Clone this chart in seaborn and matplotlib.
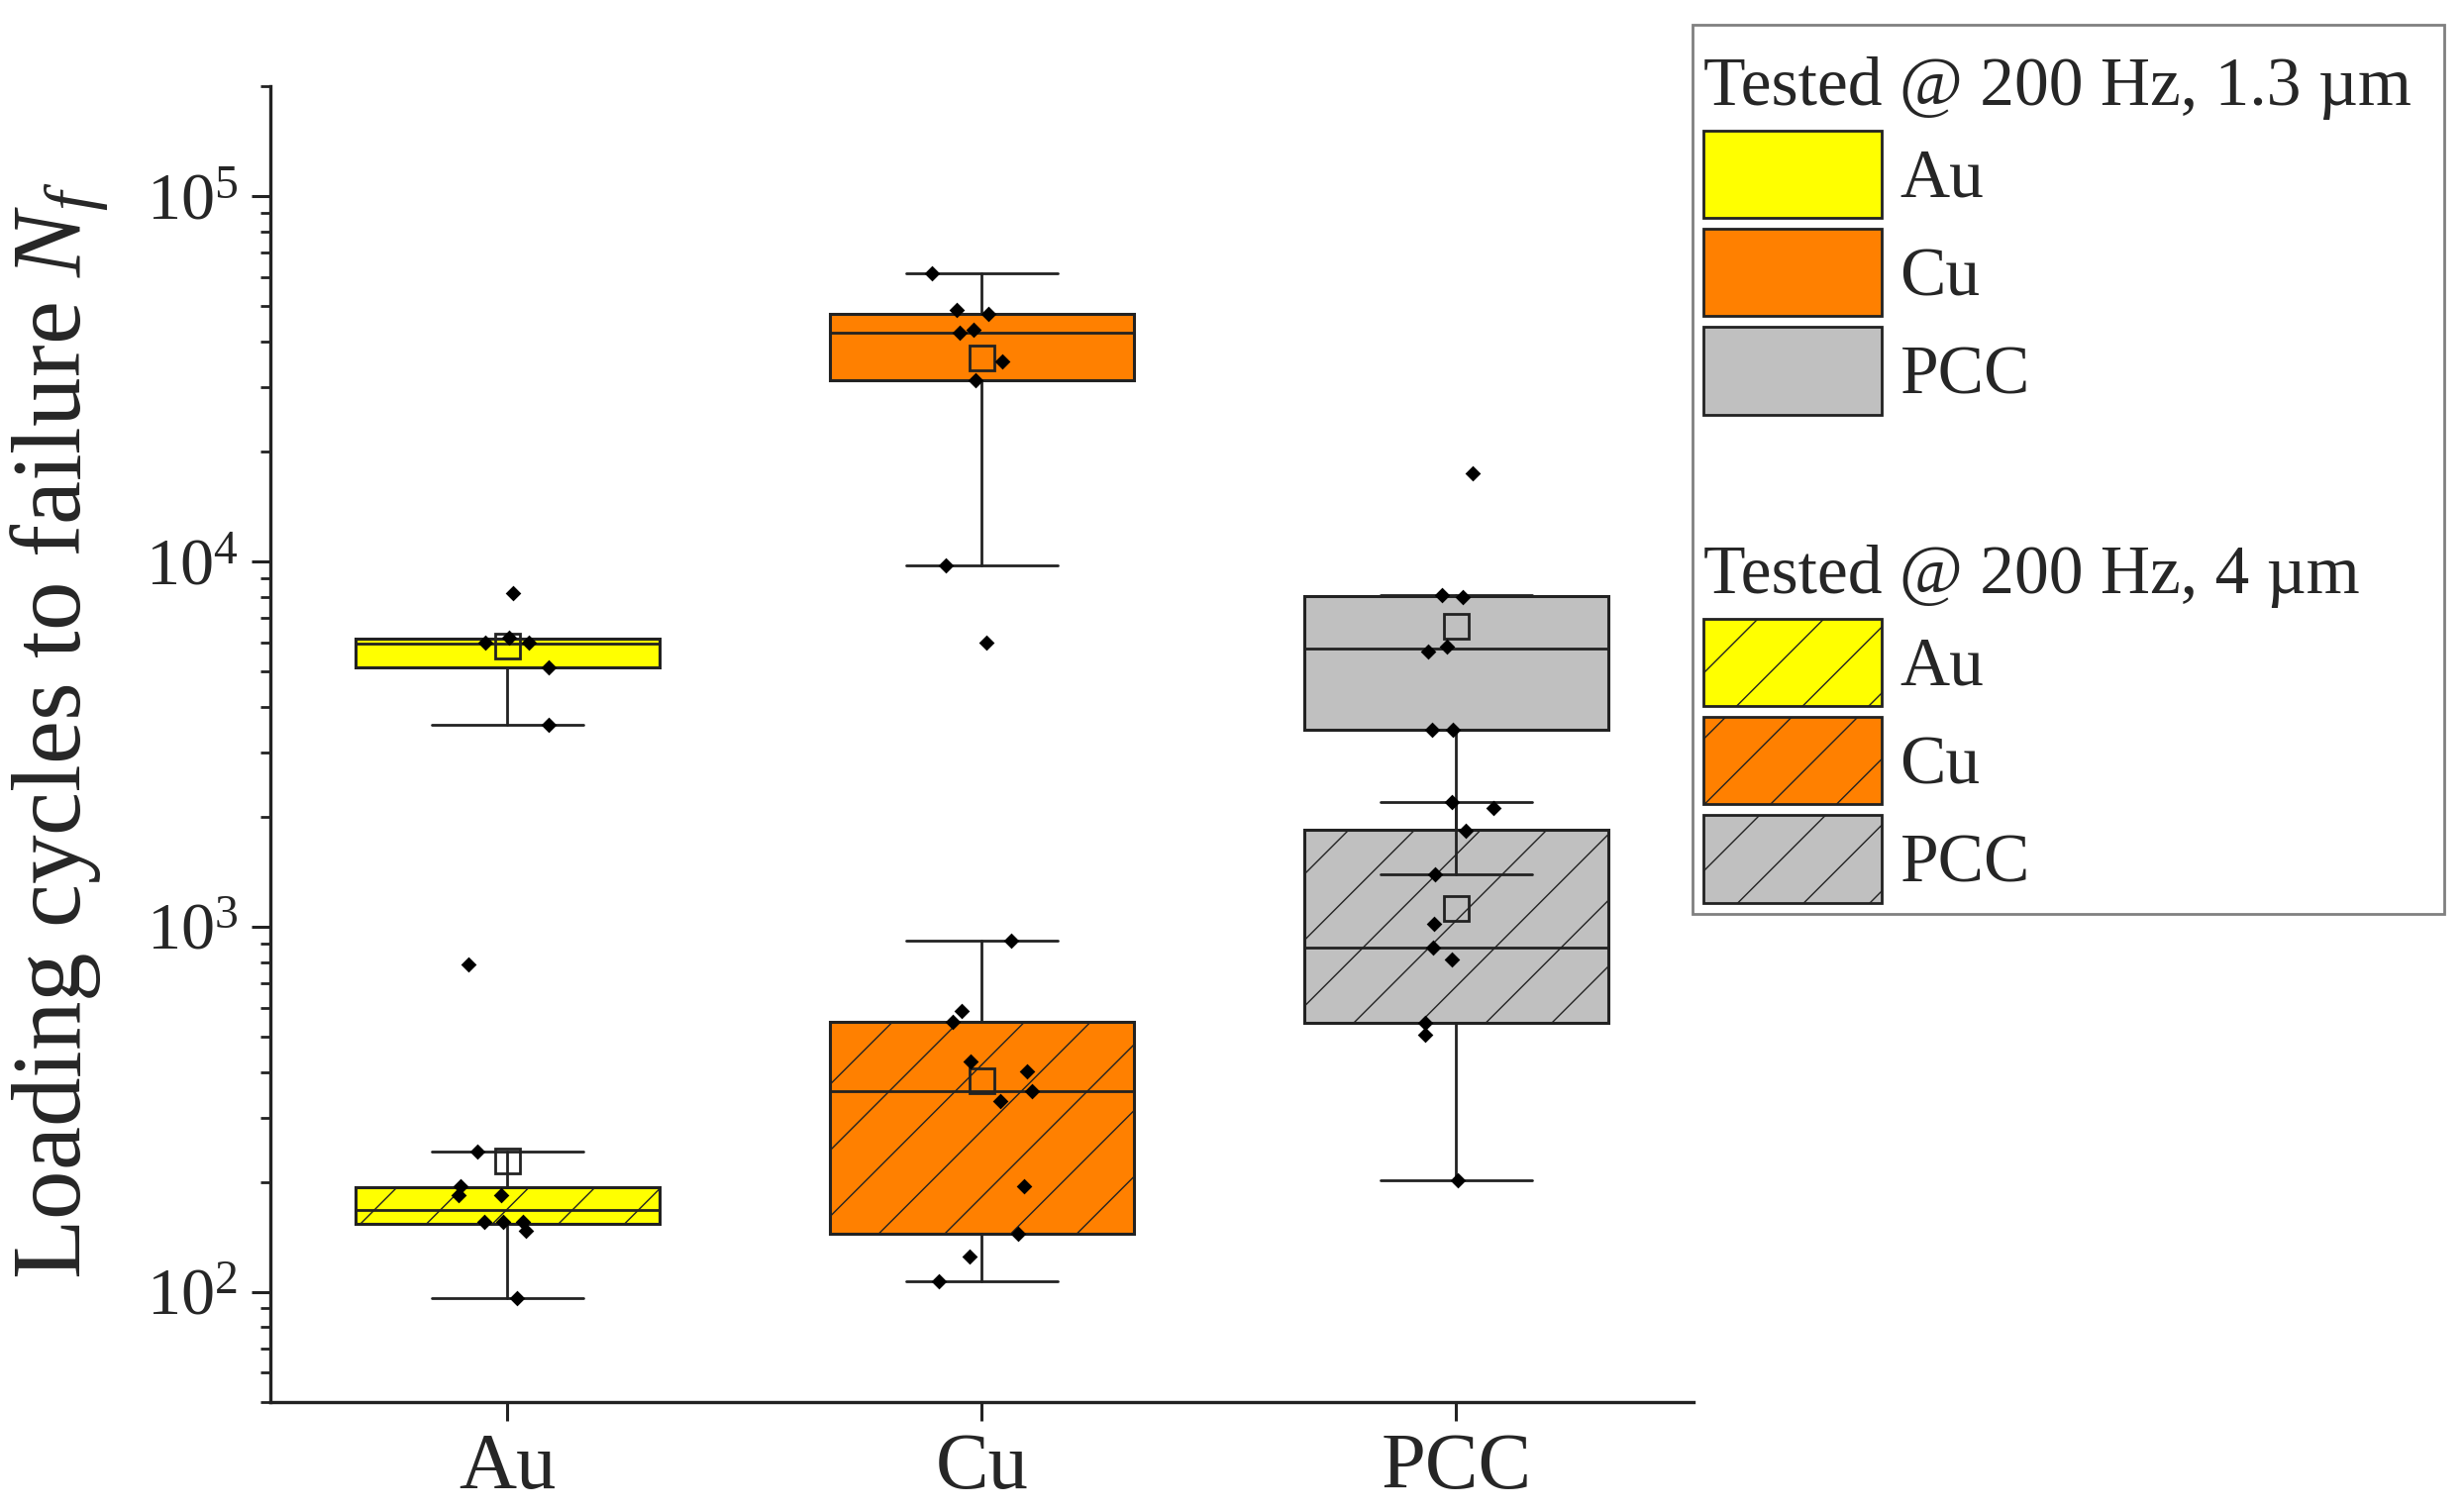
import numpy as np
import pandas as pd
import matplotlib.pyplot as plt
from matplotlib.patches import Patch, Rectangle
import seaborn as sns

metals = ['Au', 'Cu', 'PCC']
colors = ['#FFFF00', '#FF8000', '#C0C0C0']

# box statistics, tested @ 200 Hz, 1.3 um (cycles to failure)
q1_13 = [5110, 31300, 3450]
med_13 = [5950, 42250, 5760]
q3_13 = [6130, 47670, 8020]
lo_13 = [3560, 9730, 1390]
hi_13 = [6130, 61460, 8070]
mean_13 = [5880, 36140, 6650]

# box statistics, tested @ 200 Hz, 4 um
q1_4 = [153, 144, 544]
med_4 = [168, 355, 878]
q3_4 = [193, 547, 1839]
lo_4 = [96, 107, 202]
hi_4 = [242, 917, 2190]
mean_4 = [229, 379, 1122]

# single specimens
au_13 = [8170, 6000, 6000, 6170, 5110, 3560, 790]
cu_13 = [61460, 47670, 48710, 42990, 42250, 35180, 31310, 9730, 5980]
pcc_13 = [17400, 7970, 8070, 5670, 5850, 3450, 3450, 1390]
au_4 = [242, 194, 184, 184, 155, 155, 155, 147, 96]
cu_4 = [917, 587, 547, 426, 402, 355, 333, 195, 144, 125, 107]
pcc_4 = [2190, 2110, 1830, 1020, 878, 815, 544, 507, 202]

edge = '#222222'


def boxStats(q1, med, q3, lo, hi, mean):
    stats = []
    for a, b, c, d, e, f in zip(q1, med, q3, lo, hi, mean):
        stats.append(dict(q1=a, med=b, q3=c, whislo=d, whishi=e, mean=f, fliers=[]))
    return stats


def drawBoxes(ax, stats, hatch, zorder):
    bp = ax.bxp(stats, positions=range(len(metals)), widths=0.64, capwidths=0.32,
                patch_artist=True, showmeans=True, showfliers=False,
                manage_ticks=False, zorder=zorder,
                boxprops=dict(edgecolor=edge, linewidth=1.1, hatch=hatch),
                whiskerprops=dict(color=edge, linewidth=1.0),
                capprops=dict(color=edge, linewidth=1.0),
                medianprops=dict(color=edge, linewidth=1.0),
                meanprops=dict(marker='s', markerfacecolor='none', markeredgecolor=edge,
                               markersize=9, markeredgewidth=1.0))
    for patch, c in zip(bp['boxes'], colors):
        patch.set_facecolor(c)
    return bp


sns.set_style('ticks')
plt.rcParams['font.family'] = ['Liberation Serif', 'DejaVu Serif']
plt.rcParams['mathtext.fontset'] = 'custom'
plt.rcParams['mathtext.rm'] = 'Liberation Serif'
plt.rcParams['mathtext.it'] = 'Liberation Serif:italic'
plt.rcParams['hatch.linewidth'] = 0.5
plt.rcParams['hatch.color'] = edge

fig = plt.figure(figsize=(12.44, 7.62), dpi=200)
ax = fig.add_axes([0.1097, 0.0711, 0.5776, 0.8718])
ax.set_yscale('log')

drawBoxes(ax, boxStats(q1_4, med_4, q3_4, lo_4, hi_4, mean_4), '/', 2)
drawBoxes(ax, boxStats(q1_13, med_13, q3_13, lo_13, hi_13, mean_13), None, 3)

rows = []
for metal, vals in zip(metals, [au_13, cu_13, pcc_13]):
    rows += [(metal, '1.3', v) for v in vals]
for metal, vals in zip(metals, [au_4, cu_4, pcc_4]):
    rows += [(metal, '4', v) for v in vals]
df = pd.DataFrame(rows, columns=['metal', 'amplitude', 'cycles'])

np.random.seed(3)
sns.stripplot(data=df, x='metal', y='cycles', order=metals, jitter=0.11,
              marker='D', color='black', size=4, linewidth=0, ax=ax, zorder=5)

ax.set_xlim(-0.5, 2.5)
ax.set_ylim(50, 2e5)
ax.set_xticks(range(len(metals)), metals)
ax.set_xlabel('')
ax.set_ylabel('Loading cycles to failure $N_f$', fontsize=35.7)
ax.yaxis.set_label_coords(-0.111, 0.51)

sns.despine(ax=ax)
for side in ['left', 'bottom']:
    ax.spines[side].set_linewidth(1.2)
    ax.spines[side].set_color(edge)
ax.tick_params(axis='both', which='major', direction='out', length=6.8, width=1.1, color=edge)
ax.tick_params(axis='y', which='minor', direction='out', length=3.6, width=1.0, color=edge, left=True)
ax.tick_params(axis='x', labelsize=29, pad=4.5)
ax.tick_params(axis='y', labelsize=24.5, pad=5)

h13 = [Patch(facecolor=c, edgecolor=edge, linewidth=1.0) for c in colors]
h4 = [Patch(facecolor=c, edgecolor=edge, linewidth=1.0, hatch='/') for c in colors]
legKw = dict(loc='upper left', frameon=False, borderpad=0, borderaxespad=0,
             handlelength=2.59, handleheight=1.574, handletextpad=0.27,
             labelspacing=0.16, fontsize=25, title_fontsize=25, alignment='left')
fig.legend(handles=h13, labels=metals, title='Tested @ 200 Hz, 1.3 µm',
           bbox_to_anchor=(0.6913, 0.9626), **legKw)
fig.legend(handles=h4, labels=metals, title='Tested @ 200 Hz, 4 µm',
           bbox_to_anchor=(0.6913, 0.6391), **legKw)
fig.patches.append(Rectangle((0.6869, 0.3946), 0.3052, 0.589, transform=fig.transFigure,
                             fill=False, edgecolor='#808080', linewidth=1.0))

plt.savefig('out.png', dpi=200)
